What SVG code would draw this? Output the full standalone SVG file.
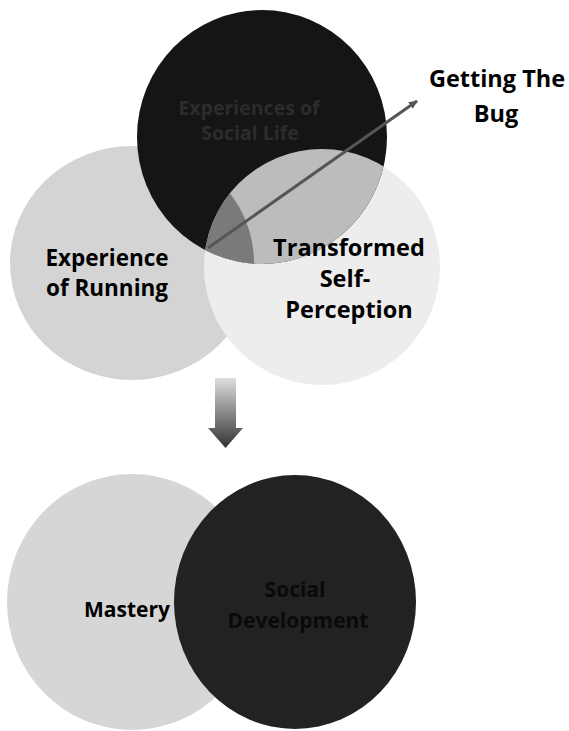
<svg xmlns="http://www.w3.org/2000/svg" width="569" height="731" viewBox="0 0 569 731">
  <defs>
    <style>
      .lbl { font-family: "Open Sans", "Liberation Sans", sans-serif; font-weight: 700; text-anchor: middle; fill: #000; }
      .big { font-size: 23.5px; }
      .mid { font-size: 22.5px; }
      .dark { font-size: 19.5px; fill: #2c2c2c; }
      .small { font-size: 21px; }
      .dk2 { font-size: 21px; fill: #0a0a0a; }
    </style>
    <clipPath id="clipRight"><ellipse cx="322" cy="267" rx="118" ry="118"/></clipPath>
    <clipPath id="clipLeft"><ellipse cx="132" cy="263" rx="122" ry="117"/></clipPath>
    <linearGradient id="downGrad" x1="0" y1="0" x2="0" y2="1">
      <stop offset="0" stop-color="#dedede"/>
      <stop offset="1" stop-color="#333"/>
    </linearGradient>
    <marker id="ah" markerWidth="10" markerHeight="10" refX="8" refY="5" orient="auto" markerUnits="userSpaceOnUse">
      <path d="M0,1 L9,5 L0,9 Z" fill="#555"/>
    </marker>
  </defs>
  <rect width="569" height="731" fill="#fff"/>

  <g id="node-running">
    <ellipse cx="132" cy="263" rx="122" ry="117" fill="#d4d4d4"/>
  </g>
  <g id="node-transformed">
    <ellipse cx="322" cy="267" rx="118" ry="118" fill="#ededed"/>
  </g>
  <g id="node-social-life">
    <ellipse cx="262" cy="137" rx="125" ry="127" fill="#151515"/>
    <g clip-path="url(#clipRight)">
      <ellipse cx="262" cy="137" rx="125" ry="127" fill="#bcbcbc"/>
      <g clip-path="url(#clipLeft)">
        <ellipse cx="262" cy="137" rx="125" ry="127" fill="#7a7a7a"/>
      </g>
    </g>
    <text class="lbl dark" x="249" y="115">Experiences of</text>
    <text class="lbl dark" x="250" y="140">Social Life</text>
  </g>
  <g id="labels-top">
    <text class="lbl mid" x="107" y="266">Experience</text>
    <text class="lbl mid" x="107" y="296">of Running</text>
    <text class="lbl big" x="349" y="256">Transformed</text>
    <text class="lbl big" x="345" y="287">Self-</text>
    <text class="lbl big" x="349" y="318">Perception</text>
  </g>
  <g id="node-getting-bug">
    <text class="lbl big" x="497" y="87">Getting The</text>
    <text class="lbl big" x="496" y="122">Bug</text>
  </g>

  <g id="connectors">
    <line x1="208" y1="248" x2="417" y2="101" stroke="#555" stroke-width="3" marker-end="url(#ah)"/>
    <path d="M215,378 L236,378 L236,428 L243,428 L225.5,448 L208,428 L215,428 Z" fill="url(#downGrad)"/>
  </g>

  <g id="node-mastery">
    <ellipse cx="132" cy="602" rx="125" ry="128" fill="#d6d6d6"/>
    <text class="lbl small" x="127" y="617">Mastery</text>
  </g>
  <g id="node-social-development">
    <ellipse cx="295" cy="602" rx="121" ry="127" fill="#222"/>
    <text class="lbl dk2" x="295" y="597">Social</text>
    <text class="lbl dk2" x="298" y="628">Development</text>
  </g>
</svg>
